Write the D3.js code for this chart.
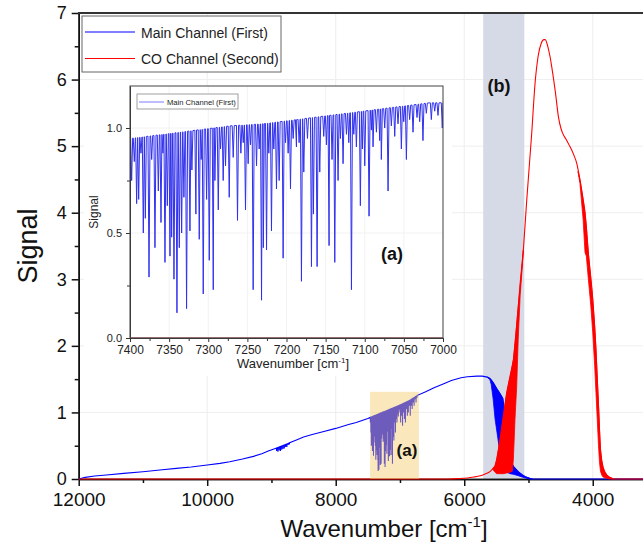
<!DOCTYPE html>
<html>
<head>
<meta charset="utf-8">
<script src="https://cdn.jsdelivr.net/npm/d3@7"></script>
<style>
  body { margin: 0; background: #fff; }
  svg { display: block; font-family: "Liberation Sans", Arial, sans-serif; }
</style>
</head>
<body>
<div id="chart"></div>
<script>
// ---- data ----
// envelope of the main channel [wavenumber, signal]
const mainChannel = [[12000, 0], [11900, 0.025], [11750, 0.045], [11570, 0.06], [11300, 0.085], [11000, 0.11],
  [10700, 0.14], [10480, 0.16], [10250, 0.18], [10000, 0.21], [9800, 0.235], [9650, 0.26], [9450, 0.30],
  [9280, 0.34], [9150, 0.38], [9050, 0.42], [8950, 0.455], [8800, 0.51], [8630, 0.58], [8500, 0.63],
  [8380, 0.665], [8200, 0.71], [8000, 0.76], [7800, 0.82], [7680, 0.85], [7500, 0.91], [7400, 0.95],
  [7300, 0.99], [7200, 1.03], [7100, 1.07], [7000, 1.11], [6850, 1.18], [6720, 1.26], [6600, 1.31],
  [6470, 1.37], [6300, 1.44], [6200, 1.48], [6050, 1.52], [5950, 1.535], [5800, 1.545], [5720, 1.545],
  [5640, 1.53], [5600, 1.51], [5550, 1.45], [5490, 1.35], [5430, 1.26], [5400, 1.21], [5385, 1.1],
  [5365, 0.79], [5340, 0.49], [5310, 0.36], [5287, 0.29], [5235, 0.19], [5160, 0.11], [5100, 0.065],
  [5050, 0.035], [4980, 0.01], [4940, 0], [3000, 0]];

// dense absorption band of the main channel in region (b) [wavenumber, top, bottom]
const mainBandB = [[5640, 1.53, 1.53], [5600, 1.51, 1.49], [5580, 1.49, 1.42], [5550, 1.45, 1.2], [5520, 1.40, 0.9],
  [5490, 1.35, 0.7], [5460, 1.31, 0.5], [5430, 1.26, 0.35], [5400, 1.21, 0.25], [5385, 1.1, 0.2], [5365, 0.79, 0.15],
  [5340, 0.49, 0.11], [5310, 0.36, 0.09], [5287, 0.29, 0.08], [5235, 0.19, 0.07], [5160, 0.11, 0.05],
  [5100, 0.065, 0.03], [5050, 0.035, 0.015], [4980, 0.01, 0], [4940, 0, 0]];

// envelope of the CO channel
const coChannel = [[12000, 0], [6250, 0], [6100, 0.005], [5950, 0.015], [5850, 0.03], [5750, 0.05], [5700, 0.065],
  [5650, 0.085], [5600, 0.11], [5560, 0.15], [5520, 0.2], [5495, 0.29], [5443, 0.59], [5391, 0.94], [5339, 1.29],
  [5287, 1.54], [5235, 1.79], [5158, 2.6], [5080, 3.44], [5027, 4.19], [4950, 5.19], [4898, 5.94], [4850, 6.35],
  [4800, 6.55], [4760, 6.6], [4740, 6.6], [4700, 6.5], [4660, 6.32], [4638, 6.19], [4580, 5.8], [4534, 5.44],
  [4490, 5.25], [4457, 5.17], [4420, 5.11], [4380, 5.04], [4353, 4.99], [4300, 4.88], [4249, 4.74], [4200, 4.5],
  [4150, 4.2], [4120, 4.0], [4068, 3.39], [4000, 2.7], [3950, 1.95], [3910, 1.1], [3880, 0.45], [3840, 0.18],
  [3780, 0.06], [3700, 0.01], [3680, 0], [3000, 0]];

// dense line regions of the CO channel [wavenumber, top, bottom]
const coRise = [[5560, 0.15, 0.15], [5520, 0.2, 0.1], [5495, 0.29, 0.08], [5443, 0.59, 0.08], [5391, 0.94, 0.08],
  [5339, 1.29, 0.09], [5287, 1.54, 0.1], [5250, 1.72, 0.12], [5235, 1.79, 0.3], [5210, 2.05, 0.9], [5183, 2.33, 1.4],
  [5160, 2.58, 2.1], [5130, 2.95, 2.75], [5100, 3.25, 3.15], [5080, 3.44, 3.44]];
const coFall = [[4230, 4.62, 4.62], [4200, 4.5, 4.45], [4150, 4.2, 3.9], [4120, 4.0, 3.4], [4100, 3.8, 3.35],
  [4068, 3.39, 3.0], [4030, 3.0, 2.6], [4000, 2.7, 2.2], [3970, 2.3, 1.7], [3950, 1.95, 1.3], [3930, 1.5, 0.9],
  [3910, 1.1, 0.5], [3895, 0.75, 0.25], [3880, 0.45, 0.12], [3860, 0.28, 0.06], [3840, 0.18, 0.03],
  [3810, 0.1, 0.02], [3780, 0.06, 0.01], [3740, 0.03, 0], [3700, 0.01, 0], [3680, 0, 0]];

// absorption lines [wavenumber, minimum signal]
const waterLines = [[7460, 0.85], [7452, 0.7], [7445, 0.5], [7437, 0.8], [7428, 0.42], [7420, 0.6], [7412, 0.35],
  [7405, 0.55],
  [7397.9, 0.75], [7394.5, 0.84], [7391.5, 0.64], [7388.9, 0.66], [7386, 0.88], [7383, 0.50], [7380.4, 0.57],
  [7375.7, 0.29], [7372.3, 0.85], [7368.1, 0.43], [7363.8, 0.70], [7360.4, 0.55], [7357.9, 0.88], [7355.3, 0.36],
  [7352.3, 0.63], [7348.9, 0.39], [7346.8, 0.48], [7343.8, 0.28], [7340, 0.12], [7337, 0.43], [7334, 0.50],
  [7331.1, 0.67], [7327.7, 0.14], [7323.4, 0.51], [7320.9, 0.80], [7315.8, 0.59], [7311.5, 0.47], [7309, 0.85],
  [7306.4, 0.21], [7302.1, 0.66], [7298.7, 0.37], [7293.6, 0.23], [7291.5, 0.75], [7287.2, 0.61], [7284.3, 0.9],
  [7280.9, 0.75], [7277.9, 0.82], [7273.2, 0.67], [7268.1, 0.86], [7262.6, 0.56], [7258.3, 0.88], [7255.3, 0.93],
  [7252.4, 0.61], [7249, 0.83], [7246, 0.92], [7242.6, 0.23], [7238.3, 0.82], [7234.9, 0.9], [7231.9, 0.18],
  [7229.6, 0.43], [7225.5, 0.42], [7222.6, 0.88], [7219.2, 0.51], [7216.2, 0.9], [7212.8, 0.71], [7209.4, 0.75],
  [7204.3, 0.38], [7201.3, 0.93], [7197.9, 0.88], [7194.9, 0.71], [7191.5, 0.95], [7187.3, 0.91], [7183.9, 0.93],
  [7180.9, 0.27], [7177.9, 0.79], [7173.2, 0.95], [7168.1, 0.34], [7165.6, 0.59], [7160.9, 0.34], [7157.5, 0.79],
  [7152.4, 0.96], [7149, 0.92], [7145.6, 0.44], [7141.8, 0.85], [7138.3, 0.36], [7134.1, 0.75], [7131.1, 0.95],
  [7127.7, 0.83], [7123.4, 0.97], [7120.4, 0.93], [7117, 0.23], [7114, 0.97], [7110.7, 0.91], [7105.6, 0.63],
  [7103, 0.90], [7100, 0.82], [7094.5, 0.58], [7091.5, 0.99], [7089.4, 0.91], [7085.1, 0.98], [7080.9, 0.94],
  [7078.8, 0.85], [7074.5, 1.0], [7070.2, 0.70], [7066, 1.01], [7061.7, 0.96], [7057.5, 1.02], [7053.2, 0.90],
  [7050.2, 1.03], [7046.8, 0.85], [7042.6, 1.04], [7038.3, 0.98], [7033.2, 1.05], [7029.8, 1.03], [7025.6, 0.94],
  [7021.3, 1.07], [7014.9, 1.04], [7010.6, 1.08], [7006.4, 1.06], [7000.9, 1.0],
  [6990, 0.85], [6975, 0.95], [6960, 0.8], [6945, 1.0], [6930, 0.9], [6915, 0.85], [6900, 1.05], [6885, 0.95],
  [6870, 1.0], [6855, 1.1], [6840, 0.95], [6825, 1.1], [6810, 1.05], [6795, 1.15], [6780, 1.1], [6765, 1.2],
  [6750, 1.15], [6735, 1.22], [6720, 1.25]];
const weakLines = [[8920, 0.42], [8900, 0.41], [8880, 0.43], [8860, 0.42], [8840, 0.44], [8820, 0.45], [8800, 0.46],
  [8780, 0.48], [8760, 0.48], [8740, 0.51], [8720, 0.52], [8700, 0.55]];

// inset baseline [wavenumber, signal]
const insetBaseline = [[7400, 0.95], [7357, 0.97], [7315, 0.99], [7272, 1.01], [7230, 1.02], [7187, 1.04],
  [7145, 1.06], [7102, 1.08], [7060, 1.10], [7017, 1.12], [7000, 1.12]];

// highlighted regions
const regionA = [7465, 6705, 1.31];
const regionB = [5705, 5065];

// ticks and labels
const xTicks = [12000, 10000, 8000, 6000, 4000];
const xMinorTicks = [11000, 9000, 7000, 5000, 3000];
const yTicks = [0, 1, 2, 3, 4, 5, 6, 7];
const yMinorTicks = [0.5, 1.5, 2.5, 3.5, 4.5, 5.5, 6.5];
const insetXTicks = [7400, 7350, 7300, 7250, 7200, 7150, 7100, 7050, 7000];
const insetXMinor = [7375, 7325, 7275, 7225, 7175, 7125, 7075, 7025];
const insetYTicks = [0, 0.5, 1.0];
const insetYMinor = [0.25, 0.75];
const seriesNames = ["Main Channel (First)", "CO Channel (Second)"];
const seriesColors = ["#0000ff", "#ff0000"];

// ---- drawing ----
const svg = d3.select('#chart').append('svg').attr('width', 643).attr('height', 545);

const x = d3.scaleLinear().domain([12000, 3000]).range([78.7, 657]);
const y = d3.scaleLinear().domain([0, 7]).range([479, 13]);

// spectrum = envelope with narrow dips at each line position
function spectrum(envelope, lines, hw) {
  const base = d3.scaleLinear().domain(envelope.map(d => d[0])).range(envelope.map(d => d[1]));
  const pts = envelope.slice();
  lines.forEach(l => {
    pts.push([l[0] + hw, base(l[0] + hw)]);
    pts.push([l[0], Math.min(l[1], base(l[0]))]);
    pts.push([l[0] - hw, base(l[0] - hw)]);
  });
  return pts.sort((a, b) => b[0] - a[0]);
}

const defs = svg.append('defs');
defs.append('clipPath').attr('id', 'plotclip').append('rect')
    .attr('x', 78.7).attr('y', 13).attr('width', 600).attr('height', 470);

// gridlines
svg.append('g').selectAll('line').data(xTicks).join('line')
    .attr('x1', d => x(d)).attr('x2', d => x(d)).attr('y1', y(7)).attr('y2', y(0))
    .attr('stroke', '#eeeeee');
svg.append('g').selectAll('line').data(yTicks.slice(1)).join('line')
    .attr('x1', x(12000)).attr('x2', 660).attr('y1', d => y(d)).attr('y2', d => y(d))
    .attr('stroke', '#eeeeee');

// region (b) band, behind the curves
svg.append('rect')
    .attr('x', x(regionB[0])).attr('width', x(regionB[1]) - x(regionB[0]))
    .attr('y', y(7)).attr('height', y(0) - y(7))
    .attr('fill', '#d5dae6');

// axes
const gx = svg.append('g').attr('transform', `translate(0,${y(0)})`);
gx.append('g').call(d3.axisBottom(x).tickValues(xMinorTicks).tickSize(4).tickSizeOuter(0).tickFormat(''));
gx.append('g').call(d3.axisBottom(x).tickValues(xTicks).tickSize(7).tickSizeOuter(0).tickPadding(7).tickFormat(d3.format('d')))
    .call(g => g.selectAll('text').attr('font-size', 19).attr('fill', '#111'));
const gy = svg.append('g').attr('transform', `translate(${x(12000)},0)`);
gy.append('g').call(d3.axisLeft(y).tickValues(yMinorTicks).tickSize(4).tickSizeOuter(0).tickFormat(''));
gy.append('g').call(d3.axisLeft(y).tickValues(yTicks).tickSize(7).tickSizeOuter(0).tickPadding(5).tickFormat(d3.format('d')))
    .call(g => g.selectAll('text').attr('font-size', 18).attr('fill', '#111'));
svg.selectAll('.domain, .tick line').attr('stroke', '#111').attr('stroke-width', 1.5);
svg.append('line').attr('x1', x(12000) - 0.75).attr('x2', 660).attr('y1', y(7)).attr('y2', y(7))
    .attr('stroke', '#333').attr('stroke-width', 2);

// curves
const plot = svg.append('g').attr('clip-path', 'url(#plotclip)');
const line = d3.line().x(d => x(d[0])).y(d => y(d[1]));
const smooth = d3.line().x(d => x(d[0])).y(d => y(d[1])).curve(d3.curveMonotoneX);
const band = d3.area().x(d => x(d[0])).y0(d => y(d[2])).y1(d => y(d[1]));

plot.append('path').datum(spectrum(mainChannel, waterLines.concat(weakLines), 1.5))
    .attr('d', line).attr('fill', 'none').attr('stroke', seriesColors[0]).attr('stroke-width', 1.1);
plot.append('path').datum(mainBandB).attr('d', band)
    .attr('fill', seriesColors[0]).attr('stroke', seriesColors[0]).attr('stroke-width', 0.8);

plot.append('path').datum(coChannel).attr('d', smooth)
    .attr('fill', 'none').attr('stroke', seriesColors[1]).attr('stroke-width', 1.1);
plot.append('path').datum(coRise).attr('d', band)
    .attr('fill', seriesColors[1]).attr('stroke', seriesColors[1]).attr('stroke-width', 0.8);
plot.append('path').datum(coFall).attr('d', band)
    .attr('fill', seriesColors[1]).attr('stroke', seriesColors[1]).attr('stroke-width', 0.8);

// region (a) band, laid over the curves
svg.append('rect')
    .attr('x', x(regionA[0])).attr('width', x(regionA[1]) - x(regionA[0]))
    .attr('y', y(regionA[2])).attr('height', y(0) - y(regionA[2]))
    .attr('fill', '#f4cd6a').attr('opacity', 0.45);

svg.append('text').attr('x', 407).attr('y', 456).attr('text-anchor', 'middle')
    .attr('font-size', 17).attr('font-weight', 'bold').attr('fill', '#111').text('(a)');
svg.append('text').attr('x', 499).attr('y', 92).attr('text-anchor', 'middle')
    .attr('font-size', 18).attr('font-weight', 'bold').attr('fill', '#111').text('(b)');

// axis titles
const xt = svg.append('text').attr('x', 384).attr('y', 537).attr('text-anchor', 'middle')
    .attr('font-size', 24).attr('fill', '#111');
xt.append('tspan').text('Wavenumber [cm');
xt.append('tspan').attr('dy', -10).attr('font-size', 15).text('-1');
xt.append('tspan').attr('dy', 10).text(']');
svg.append('text').attr('transform', 'translate(37,246) rotate(-90)').attr('text-anchor', 'middle')
    .attr('font-size', 27).attr('fill', '#111').text('Signal');

// legend
const lg = svg.append('g');
lg.append('rect').attr('x', 82).attr('y', 16).attr('width', 199).attr('height', 56)
    .attr('fill', '#fff').attr('stroke', '#666');
seriesNames.forEach((name, i) => {
  const ly = 32 + i * 26.5;
  lg.append('line').attr('x1', 85).attr('x2', 135).attr('y1', ly).attr('y2', ly)
      .attr('stroke', seriesColors[i]).attr('stroke-width', 1);
  lg.append('text').attr('x', 141).attr('y', ly + 5.5).attr('font-size', 14).attr('fill', '#222').text(name);
});

// ---- inset ----
const ix = d3.scaleLinear().domain([7400, 7000]).range([130, 443]);
const iy = d3.scaleLinear().domain([0, 1.2]).range([338, 86]);
const inset = svg.append('g');
inset.append('rect').attr('x', 84).attr('y', 86).attr('width', 368).attr('height', 290).attr('fill', '#fff');
inset.append('g').selectAll('line').data(insetXTicks).join('line')
    .attr('x1', d => ix(d)).attr('x2', d => ix(d)).attr('y1', iy(1.2)).attr('y2', iy(0)).attr('stroke', '#f2f2f2');
inset.append('g').selectAll('line').data(insetYTicks.slice(1)).join('line')
    .attr('x1', ix(7400)).attr('x2', ix(7000)).attr('y1', d => iy(d)).attr('y2', d => iy(d)).attr('stroke', '#f2f2f2');

defs.append('clipPath').attr('id', 'insetclip').append('rect')
    .attr('x', ix(7400)).attr('y', iy(1.2)).attr('width', ix(7000) - ix(7400)).attr('height', iy(0) - iy(1.2) + 1);

const iline = d3.line().x(d => ix(d[0])).y(d => iy(d[1]));
const ig = inset.append('g').attr('clip-path', 'url(#insetclip)');
ig.append('path').datum(spectrum(insetBaseline, waterLines, 1.3)).attr('d', iline)
    .attr('fill', 'none').attr('stroke', '#3030ee').attr('stroke-width', 1);

const igx = inset.append('g').attr('transform', `translate(0,${iy(0)})`);
igx.append('g').call(d3.axisBottom(ix).tickValues(insetXMinor).tickSize(3).tickSizeOuter(0).tickFormat(''));
igx.append('g').call(d3.axisBottom(ix).tickValues(insetXTicks).tickSize(4).tickSizeOuter(0).tickPadding(3).tickFormat(d3.format('d')))
    .call(g => g.selectAll('text').attr('font-size', 12).attr('fill', '#222'));
const igy = inset.append('g').attr('transform', `translate(${ix(7400)},0)`);
igy.append('g').call(d3.axisLeft(iy).tickValues(insetYMinor).tickSize(3).tickSizeOuter(0).tickFormat(''));
igy.append('g').call(d3.axisLeft(iy).tickValues(insetYTicks).tickSize(4).tickSizeOuter(0).tickPadding(4).tickFormat(d3.format('.1f')))
    .call(g => g.selectAll('text').attr('font-size', 11).attr('fill', '#222'));
inset.selectAll('.domain, .tick line').attr('stroke', '#333').attr('stroke-width', 1);
inset.append('rect').attr('x', ix(7400)).attr('y', iy(1.2)).attr('width', ix(7000) - ix(7400))
    .attr('height', iy(0) - iy(1.2)).attr('fill', 'none').attr('stroke', '#444').attr('stroke-width', 1);

// CO channel sits at zero inside the inset range
ig.append('path').datum(coChannel).attr('d', iline)
    .attr('fill', 'none').attr('stroke', '#c03030').attr('stroke-width', 1.2);

// inset legend
inset.append('rect').attr('x', 137).attr('y', 94).attr('width', 101).attr('height', 15)
    .attr('fill', '#fff').attr('stroke', '#888').attr('stroke-width', 0.8);
inset.append('line').attr('x1', 139).attr('x2', 164).attr('y1', 102).attr('y2', 102)
    .attr('stroke', '#7b7bff').attr('stroke-width', 1);
inset.append('text').attr('x', 167).attr('y', 104.5).attr('font-size', 7.6).attr('fill', '#222').text(seriesNames[0]);

inset.append('text').attr('x', 392).attr('y', 260).attr('text-anchor', 'middle')
    .attr('font-size', 18).attr('font-weight', 'bold').attr('fill', '#111').text('(a)');

const ixt = inset.append('text').attr('x', 293).attr('y', 368).attr('text-anchor', 'middle')
    .attr('font-size', 13).attr('fill', '#222');
ixt.append('tspan').text('Wavenumber [cm');
ixt.append('tspan').attr('dy', -5).attr('font-size', 8).text('-1');
ixt.append('tspan').attr('dy', 5).text(']');
inset.append('text').attr('transform', `translate(98,${(iy(0) + iy(1.2)) / 2}) rotate(-90)`)
    .attr('text-anchor', 'middle').attr('font-size', 12).attr('fill', '#222').text('Signal');
</script>
</body>
</html>
